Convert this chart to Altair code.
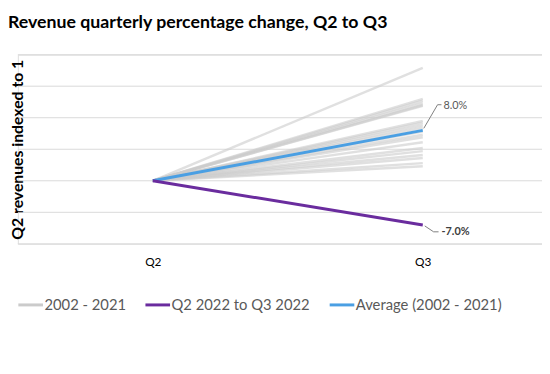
import altair as alt
import pandas as pd

# ---- data ----
quarters = ["Q2", "Q3"]
years = [str(y) for y in range(2002, 2022)]
hist_change_pct = [7.3, 12.3, 4.7, 9.2, 2.8, 12.0, 6.1, 17.9, 3.6, 8.8,
                   11.9, 5.2, 2.3, 9.5, 13.0, 6.9, 4.1, 12.7, 7.8, 8.4]
change_2022_pct = -7.0
average_pct = 8.0
series_names = ["2002 - 2021", "Q2 2022 to Q3 2022", "Average (2002 - 2021)"]
series_colors = ["#cbcbcb", "#6a2c9e", "#4a9fe3"]
grid_values = [0.90, 0.95, 1.00, 1.05, 1.10, 1.15, 1.20]

FONT = "Lato"

rows = []
for yr, pct in zip(years, hist_change_pct):
    rows.append({"series": series_names[0], "line": yr, "quarter": quarters[0], "index": 1.0})
    rows.append({"series": series_names[0], "line": yr, "quarter": quarters[1], "index": 1 + pct / 100})
hist_df = pd.DataFrame(rows)

avg_df = pd.DataFrame([
    {"series": series_names[2], "quarter": quarters[0], "index": 1.0},
    {"series": series_names[2], "quarter": quarters[1], "index": 1 + average_pct / 100},
])
cur_df = pd.DataFrame([
    {"series": series_names[1], "quarter": quarters[0], "index": 1.0},
    {"series": series_names[1], "quarter": quarters[1], "index": 1 + change_2022_pct / 100},
])
avg_lab = pd.DataFrame([{"quarter": quarters[1], "index": 1 + average_pct / 100,
                         "label": f"{average_pct:.1f}%"}])
cur_lab = pd.DataFrame([{"quarter": quarters[1], "index": 1 + change_2022_pct / 100,
                         "label": f"{change_2022_pct:.1f}%"}])
grid_df = pd.DataFrame({"index": grid_values})

x_enc = alt.X("quarter:N",
              scale=alt.Scale(type="point", domain=quarters, padding=0.4708, align=0.531),
              axis=alt.Axis(title=None, labelAngle=0, domain=False, ticks=False, tickSize=0,
                            labelPadding=13, labelFontSize=12, labelColor="#000000",
                            labelFont=FONT, grid=False))
y_enc = alt.Y("index:Q",
              scale=alt.Scale(domain=[0.9, 1.2], nice=False, zero=False),
              axis=alt.Axis(labels=False, ticks=False, domain=False, grid=False,
                            title="Q2 revenues indexed to 1", titleFont=FONT,
                            titleFontSize=16, titleFontWeight="bold", titleColor="#000000",
                            titleX=0, titleY=96, titleAngle=270, titleAlign="center",
                            titleBaseline="middle"))
color_enc = alt.Color("series:N",
                      scale=alt.Scale(domain=series_names, range=series_colors),
                      legend=alt.Legend(title=None, orient="none", legendX=-1, legendY=240,
                                        direction="horizontal", symbolType="stroke",
                                        symbolSize=625, symbolStrokeWidth=3,
                                        symbolOpacity=1, labelFont=FONT, labelFontSize=15,
                                        labelColor="#595959", columnPadding=13,
                                        labelOffset=0, labelLimit=400))

grid = alt.Chart(grid_df).mark_rule(color="#d9d9d9", strokeWidth=1).encode(y=y_enc)
hist = alt.Chart(hist_df).mark_line(strokeWidth=2.5, opacity=0.6).encode(
    x=x_enc, y=y_enc, color=color_enc, detail="line:N")
avg = alt.Chart(avg_df).mark_line(strokeWidth=3).encode(x=x_enc, y=y_enc, color=color_enc)
cur = alt.Chart(cur_df).mark_line(strokeWidth=3).encode(x=x_enc, y=y_enc, color=color_enc)

def leader(df, xo, yo, x2o, y2o):
    return alt.Chart(df).mark_rule(color="#7f7f7f", strokeWidth=1,
                                   xOffset=xo, yOffset=yo, x2Offset=x2o, y2Offset=y2o).encode(
        x="quarter:N", x2=alt.X2("quarter"), y="index:Q", y2=alt.Y2("index"))

avg_lead1 = leader(avg_lab, 1, -2, 15, -26)
avg_lead2 = leader(avg_lab, 15, -26, 19, -26)
cur_lead1 = leader(cur_lab, 2, 1, 11, 7)
cur_lead2 = leader(cur_lab, 11, 7, 16, 7)

avg_text = alt.Chart(avg_lab).mark_text(align="left", baseline="middle", dx=21, dy=-25,
                                        font=FONT, fontSize=11, color="#595959").encode(
    x="quarter:N", y="index:Q", text="label:N")
cur_text = alt.Chart(cur_lab).mark_text(align="left", baseline="middle", dx=19, dy=7,
                                        font=FONT, fontSize=11, fontWeight="bold",
                                        color="#404040").encode(
    x="quarter:N", y="index:Q", text="label:N")

chart = alt.layer(grid, hist, avg, cur, avg_lead1, avg_lead2, cur_lead1, cur_lead2,
                  avg_text, cur_text).properties(
    width=532, height=192,
    autosize=alt.AutoSizeParams(type="none"),
    padding={"left": 10, "top": 45, "right": 0, "bottom": 80},
    title=alt.TitleParams("Revenue quarterly percentage change, Q2 to Q3", anchor="start",
                          frame="group", dx=-10, offset=23, font=FONT, fontSize=18,
                          fontWeight="bold", color="#000000"),
).configure_view(stroke=None).configure(background="white")

chart.save("out.html", embed_options={"renderer": "svg", "actions": False})
